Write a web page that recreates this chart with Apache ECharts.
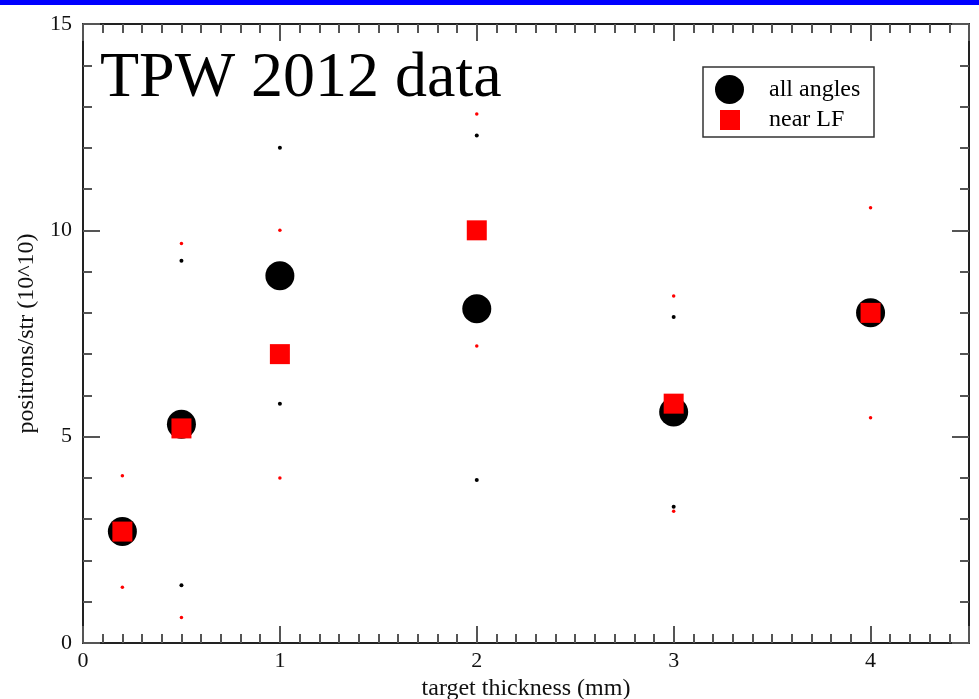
<!DOCTYPE html>
<html>
<head>
<meta charset="utf-8">
<script src="https://cdn.jsdelivr.net/npm/echarts@6/dist/echarts.min.js"></script>
<style>
html,body{margin:0;padding:0;background:#fff;}
#chart{width:979px;height:699px;}
</style>
</head>
<body>
<div id="chart"></div>
<script>
// ---- data ----
const thickness = [0.2, 0.5, 1, 2, 3, 4];
const allAngles = [2.7, 5.3, 8.9, 8.1, 5.6, 8.0];
const nearLF = [2.7, 5.2, 7.0, 10.0, 5.8, 8.0];
const allAnglesHigh = [null, 9.26, 12.0, 12.3, 7.9, null];
const allAnglesLow = [null, 1.4, 5.8, 3.95, 3.3, null];
const nearLFHigh = [4.05, 9.68, 10.0, 12.82, 8.41, 10.55];
const nearLFLow = [1.35, 0.62, 4.0, 7.2, 3.19, 5.46];
const xTickLabels = ['0', '1', '2', '3', '4'];
const yTickLabels = ['0', '5', '10', '15'];

const FONT = 'Liberation Serif';
function pairs(xs, ys) {
  const out = [];
  xs.forEach((x, i) => { if (ys[i] != null) out.push([x, ys[i]]); });
  return out;
}
function lineOpt(major) {
  return major
    ? { show: true, onZero: false, lineStyle: { color: '#222', width: 2 } }
    : { show: false, onZero: false };
}
function xAx(pos, major) {
  return {
    type: 'value', position: pos, min: 0, max: 4.5, interval: major ? 1 : 0.1,
    axisLine: lineOpt(major),
    axisTick: { show: true, inside: true, length: major ? 17 : 9, lineStyle: { color: '#555', width: 2 } },
    axisLabel: (major && pos === 'bottom') ? {
      show: true, margin: 7, fontFamily: FONT, fontSize: 22, color: '#111',
      formatter: v => (Number.isInteger(v) && xTickLabels.includes(String(v))) ? String(v) : ''
    } : { show: false },
    splitLine: { show: false },
    name: (major && pos === 'bottom') ? 'target thickness (mm)' : '',
    nameLocation: 'middle', nameGap: 26,
    nameTextStyle: { fontFamily: FONT, fontSize: 24, color: '#111' }
  };
}
function yAx(pos, major) {
  return {
    type: 'value', position: pos, min: 0, max: 15, interval: major ? 5 : 1,
    axisLine: lineOpt(major),
    axisTick: { show: true, inside: true, length: major ? 17 : 9, lineStyle: { color: '#555', width: 2 } },
    axisLabel: (major && pos === 'left') ? {
      show: true, margin: 11, fontFamily: FONT, fontSize: 22, color: '#111',
      formatter: v => yTickLabels.includes(String(v)) ? String(v) : ''
    } : { show: false },
    splitLine: { show: false },
    name: (major && pos === 'left') ? 'positrons/str (10^10)' : '',
    nameLocation: 'middle', nameGap: 38,
    nameTextStyle: { fontFamily: FONT, fontSize: 24, color: '#111' }
  };
}

const chart = echarts.init(document.getElementById('chart'), null, { renderer: 'canvas' });
chart.setOption({
  animation: false,
  backgroundColor: '#fff',
  title: {
    text: 'TPW 2012 data', left: 100, top: 47, padding: 0,
    textStyle: { fontFamily: FONT, fontSize: 64, fontWeight: 'normal', color: '#000' }
  },
  grid: { left: 83, right: 10, top: 24, bottom: 56, containLabel: false, outerBoundsMode: 'none' },
  xAxis: [xAx('bottom', true), xAx('bottom', false), xAx('top', true), xAx('top', false)],
  yAxis: [yAx('left', true), yAx('left', false), yAx('right', true), yAx('right', false)],
  legend: [
    { data: ['all angles'], left: 715, top: 75, orient: 'vertical', padding: 0,
      itemWidth: 29, itemHeight: 29, selectedMode: false,
      textStyle: { fontFamily: FONT, fontSize: 24, color: '#000', padding: [0, 0, 0, 20] } },
    { data: ['near LF'], left: 720, top: 108, orient: 'vertical', padding: 0,
      itemWidth: 20, itemHeight: 20, selectedMode: false,
      textStyle: { fontFamily: FONT, fontSize: 24, color: '#000', padding: [0, 0, 0, 24] } }
  ],
  graphic: [
    { type: 'rect', shape: { x: 0, y: 0, width: 979, height: 5 }, style: { fill: '#0000ff' }, silent: true },
    { type: 'rect', shape: { x: 703, y: 67, width: 171, height: 70 }, style: { fill: 'none', stroke: '#333', lineWidth: 1.5 }, silent: true }
  ],
  series: [
    { name: 'all angles', type: 'scatter', symbol: 'circle', symbolSize: 29,
      itemStyle: { color: '#000', opacity: 1 }, data: pairs(thickness, allAngles), z: 3 },
    { name: 'near LF', type: 'scatter', symbol: 'rect', symbolSize: 20,
      itemStyle: { color: '#ff0000', opacity: 1 }, data: pairs(thickness, nearLF), z: 4 },
    { name: 'all angles range', type: 'scatter', symbol: 'circle', symbolSize: 4,
      itemStyle: { color: '#000', opacity: 1 }, data: pairs(thickness, allAnglesHigh).concat(pairs(thickness, allAnglesLow)), z: 2 },
    { name: 'near LF range', type: 'scatter', symbol: 'circle', symbolSize: 3.5,
      itemStyle: { color: '#ff0000', opacity: 1 }, data: pairs(thickness, nearLFHigh).concat(pairs(thickness, nearLFLow)), z: 2 }
  ]
});
</script>
</body>
</html>
